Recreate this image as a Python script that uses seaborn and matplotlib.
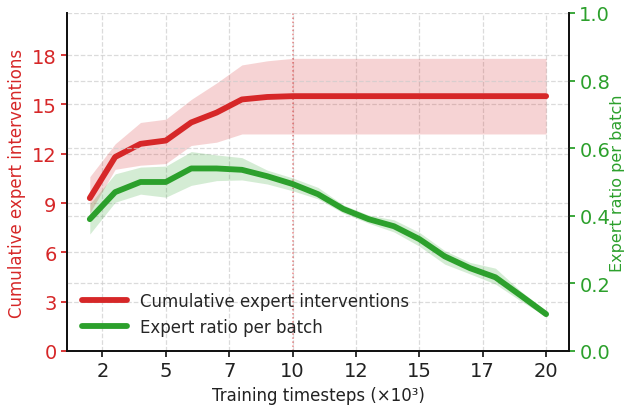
import numpy as np
import pandas as pd
import matplotlib
matplotlib.use("Agg")
import matplotlib.pyplot as plt
from matplotlib.ticker import MultipleLocator, FuncFormatter
from matplotlib.lines import Line2D
import seaborn as sns

# Training timesteps (x10^3)
steps = [2, 3, 4, 5, 6, 7, 8, 9, 10, 11, 12, 13, 14, 15, 16, 17, 18, 19, 20]

# Cumulative expert interventions: mean and spread
interv_mean = [9.3, 11.8, 12.6, 12.8, 13.9, 14.5, 15.3, 15.45, 15.5, 15.5, 15.5,
               15.5, 15.5, 15.5, 15.5, 15.5, 15.5, 15.5, 15.5]
interv_hi = [10.6, 12.6, 13.9, 14.1, 15.3, 16.3, 17.4, 17.65, 17.8, 17.8, 17.8,
             17.8, 17.8, 17.8, 17.8, 17.8, 17.8, 17.8, 17.8]
interv_lo = [8.4, 11.05, 11.3, 11.4, 12.5, 12.7, 13.2, 13.2, 13.2, 13.2, 13.2,
             13.2, 13.2, 13.2, 13.2, 13.2, 13.2, 13.2, 13.2]

# Expert ratio per batch: mean and spread
ratio_mean = [0.39, 0.47, 0.50, 0.50, 0.54, 0.54, 0.536, 0.517, 0.494, 0.464, 0.42,
              0.39, 0.369, 0.331, 0.28, 0.245, 0.218, 0.164, 0.109]
ratio_hi = [0.435, 0.524, 0.544, 0.547, 0.59, 0.58, 0.572, 0.535, 0.512, 0.484, 0.432,
            0.402, 0.388, 0.351, 0.297, 0.262, 0.245, 0.177, 0.119]
ratio_lo = [0.346, 0.44, 0.464, 0.455, 0.49, 0.504, 0.506, 0.494, 0.474, 0.45, 0.408,
            0.378, 0.352, 0.31, 0.257, 0.228, 0.198, 0.148, 0.102]

label_interv = "Cumulative expert interventions"
label_ratio = "Expert ratio per batch"
xlabel = "Training timesteps (×10³)"
cutoff_step = 10

RED = "#d62728"
GREEN = "#2ca02c"

sns.set_style("ticks")
plt.rcParams["font.family"] = ["DejaVu Sans"]

df = pd.DataFrame({"step": steps, "interv": interv_mean, "ratio": ratio_mean})

fig = plt.figure(figsize=(6.29, 4.10), dpi=100)
ax1 = fig.add_axes([0.1065, 0.1415, 0.798, 0.8244])
ax2 = ax1.twinx()

grid_kw = dict(color="#cccccc", linestyle="--", linewidth=0.9, alpha=0.7)
ax1.grid(True, **grid_kw)
ax2.grid(True, axis="y", **grid_kw)

# Intervention curve on the left axis
ax1.fill_between(steps, interv_lo, interv_hi, color=RED, alpha=0.2, linewidth=0)
sns.lineplot(data=df, x="step", y="interv", ax=ax1, color=RED, linewidth=4.2,
             legend=False)
ax1.axvline(cutoff_step, color=RED, linestyle=":", linewidth=1.1, alpha=0.55)

# Expert ratio on the right axis
ax2.fill_between(steps, ratio_lo, ratio_hi, color=GREEN, alpha=0.2, linewidth=0)
sns.lineplot(data=df, x="step", y="ratio", ax=ax2, color=GREEN, linewidth=4.2,
             legend=False)

ax1.set_ylim(0, max(interv_hi) * 1.155)
ax2.set_ylim(0, 1.0)
ax1.yaxis.set_major_locator(MultipleLocator(3))
ax2.yaxis.set_major_locator(MultipleLocator(0.2))
ax1.xaxis.set_major_locator(MultipleLocator(2.5))
ax1.xaxis.set_major_formatter(FuncFormatter(lambda v, _: f"{int(v)}"))

ax1.set_xlabel(xlabel, fontsize=12, color="#222222")
ax1.set_ylabel(label_interv, fontsize=12, color=RED)
ax2.set_ylabel(label_ratio, fontsize=11.5, color=GREEN, labelpad=0)

ax1.tick_params(axis="y", colors=RED, labelsize=14, length=4, width=1.3)
ax2.tick_params(axis="y", colors=GREEN, labelsize=14, length=4, width=1.3)
ax1.tick_params(axis="x", colors="#222222", labelsize=14, length=4, width=1.3)

for ax in (ax1, ax2):
    ax.spines["top"].set_visible(False)
    for side in ("left", "right", "bottom"):
        ax.spines[side].set_color("#111111")
        ax.spines[side].set_linewidth(1.3)

handles = [Line2D([], [], color=RED, linewidth=4.2),
           Line2D([], [], color=GREEN, linewidth=4.2)]
ax2.legend(handles, [label_interv, label_ratio], loc="lower left",
           frameon=False, fontsize=12, handlelength=2.7,
           bbox_to_anchor=(0.0, 0.0))

fig.savefig("out.png", dpi=100)
